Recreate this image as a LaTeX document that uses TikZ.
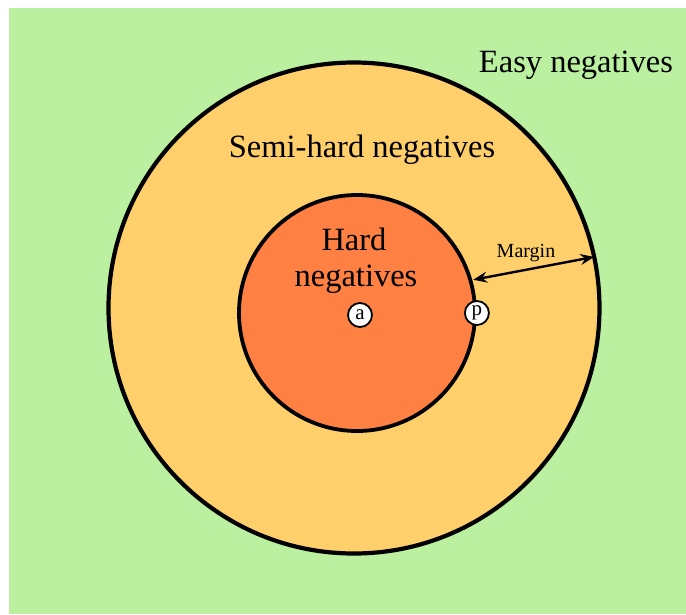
\documentclass[tikz,border=0pt]{standalone}
\usepackage{fontspec}
\setmainfont{Liberation Serif}
\usetikzlibrary{arrows.meta}
\definecolor{easygreen}{RGB}{187,240,160}
\definecolor{semiyellow}{RGB}{254,207,106}
\definecolor{hardorange}{RGB}{254,128,66}
\tikzset{
  bigtxt/.style={font=\fontsize{32.5}{36}\selectfont, inner sep=0pt},
  ring/.style={circle, draw=black, line width=4.2pt, inner sep=0pt},
  pt/.style={circle, draw=black, fill=white, line width=1.8pt, minimum size=24pt, inner sep=0pt, font=\fontsize{21}{22}\selectfont},
  tipm/.tip={Stealth[length=14pt,width=11pt,inset=5pt]},
}
\begin{document}
\begin{tikzpicture}[x=1pt,y=-1pt]
\useasboundingbox (0,0) rectangle (686,614);
\fill[easygreen] (9,8) rectangle (686,614);
\node[ring, fill=semiyellow, minimum size=491pt] (outer) at (354,308) {};
\node[ring, fill=hardorange, line width=3.8pt, minimum size=236pt] (inner) at (357,313) {};
\node[pt] (a) at (360,315) {a};
\node[pt] (p) at (inner.east) {p};
\node[bigtxt, anchor=base] (easy) at (576,72) {Easy negatives};
\node[bigtxt, anchor=base] (semi) at (362,157) {Semi-hard negatives};
\node[bigtxt, anchor=base] (hard) at (354,250) {Hard};
\node[bigtxt, anchor=base] (hardneg) at (356,286) {negatives};
\node[font=\fontsize{20}{22}\selectfont, inner sep=0pt, anchor=base] (margin) at (526,257) {Margin};
\draw[line width=2.4pt, tipm-tipm, shorten <=1pt, shorten >=2pt] (inner.16) -- (outer.12);
\end{tikzpicture}
\end{document}
